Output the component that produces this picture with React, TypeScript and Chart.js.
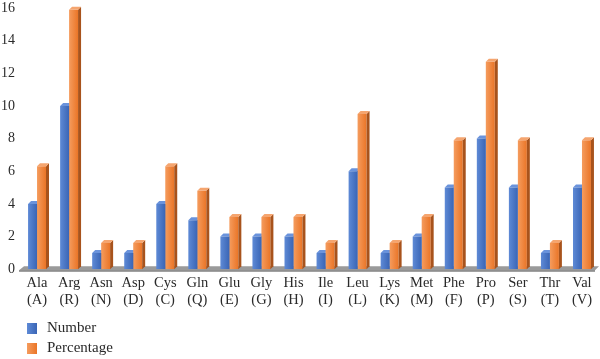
import React, { useEffect, useRef } from "react";
import { Chart, registerables } from "chart.js";

Chart.register(...registerables);

const categories: string[][] = [
  ["Ala", "(A)"], ["Arg", "(R)"], ["Asn", "(N)"], ["Asp", "(D)"], ["Cys", "(C)"],
  ["Gln", "(Q)"], ["Glu", "(E)"], ["Gly", "(G)"], ["His", "(H)"], ["Ile", "(I)"],
  ["Leu", "(L)"], ["Lys", "(K)"], ["Met", "(M)"], ["Phe", "(F)"], ["Pro", "(P)"],
  ["Ser", "(S)"], ["Thr", "(T)"], ["Val", "(V)"],
];
const numberValues: number[] = [4, 10, 1, 1, 4, 3, 2, 2, 2, 1, 6, 1, 2, 5, 8, 5, 1, 5];
const percentageValues: number[] = [6.3, 15.9, 1.6, 1.6, 6.3, 4.8, 3.2, 3.2, 3.2, 1.6, 9.5, 1.6, 3.2, 7.9, 12.7, 7.9, 1.6, 7.9];
const yTicks: number[] = [0, 2, 4, 6, 8, 10, 12, 14, 16];
const seriesNames: string[] = ["Number", "Percentage"];

const FONT = "'Liberation Serif', 'Times New Roman', serif";
const COLORS = [
  { front: "#4170c0", light: "#5e8ad6", dark: "#3a65b5", top: "#6a93dc", side: "#2c528f" },
  { front: "#ED7D31", light: "#f59c5e", dark: "#ea7527", top: "#f5a56f", side: "#a8531c" },
];
const DEPTH = 3;
const CAT_PCT = 0.56;

function frontColor(dsIndex: number) {
  return (context: any) => {
    const c = COLORS[dsIndex];
    try {
      const chart = context.chart;
      const xs = chart.scales && chart.scales.x;
      if (!xs || context.dataIndex === undefined) return c.front;
      const center = xs.getPixelForValue(context.dataIndex);
      const catW = (xs.right - xs.left) / categories.length;
      const barW = (catW * CAT_PCT) / 2;
      const l = center - barW + dsIndex * barW;
      const g = chart.ctx.createLinearGradient(l, 0, l + barW, 0);
      g.addColorStop(0, c.light);
      g.addColorStop(1, c.dark);
      return g;
    } catch (e) {
      return c.front;
    }
  };
}

function drawFaces(ctx: CanvasRenderingContext2D, chart: any, dsIndex: number) {
  const meta = chart.getDatasetMeta(dsIndex);
  const c = COLORS[dsIndex];
  meta.data.forEach((el: any) => {
    const { x, y, base, width } = el.getProps(["x", "y", "base", "width"], true);
    const l = x - width / 2;
    const r = x + width / 2;
    ctx.fillStyle = c.side;
    ctx.beginPath();
    ctx.moveTo(r, y);
    ctx.lineTo(r + DEPTH, y - DEPTH);
    ctx.lineTo(r + DEPTH, base - DEPTH);
    ctx.lineTo(r, base);
    ctx.closePath();
    ctx.fill();
    ctx.fillStyle = c.top;
    ctx.beginPath();
    ctx.moveTo(l, y);
    ctx.lineTo(l + DEPTH, y - DEPTH);
    ctx.lineTo(r + DEPTH, y - DEPTH);
    ctx.lineTo(r, y);
    ctx.closePath();
    ctx.fill();
  });
}

const threeD = {
  id: "threeD",
  beforeDatasetsDraw(chart: any) {
    const ctx = chart.ctx as CanvasRenderingContext2D;
    const { left, right, bottom } = chart.chartArea;
    ctx.save();
    ctx.fillStyle = "#9a9a9a";
    ctx.beginPath();
    ctx.moveTo(left - 2, bottom + 1);
    ctx.lineTo(left + 3, bottom - 3);
    ctx.lineTo(right + 1, bottom - 3);
    ctx.lineTo(right - 3, bottom + 1);
    ctx.closePath();
    ctx.fill();
    ctx.fillStyle = "#7a7a7a";
    ctx.fillRect(left - 2, bottom + 1, right - left - 1, 1.5);
    drawFaces(ctx, chart, 0);
    ctx.restore();
  },
  afterDatasetsDraw(chart: any) {
    const ctx = chart.ctx as CanvasRenderingContext2D;
    ctx.save();
    drawFaces(ctx, chart, 1);
    ctx.restore();
  },
  afterDraw(chart: any) {
    const ctx = chart.ctx as CanvasRenderingContext2D;
    ctx.save();
    const items = [
      { y: 323, label: seriesNames[0], c: COLORS[0] },
      { y: 343, label: seriesNames[1], c: COLORS[1] },
    ];
    items.forEach((it) => {
      const g = ctx.createLinearGradient(27, 0, 37, 0);
      g.addColorStop(0, it.c.light);
      g.addColorStop(1, it.c.dark);
      ctx.fillStyle = g;
      ctx.fillRect(27, it.y, 10, 11);
      ctx.fillStyle = "#2a2a2a";
      ctx.font = `15px ${FONT}`;
      ctx.textBaseline = "middle";
      ctx.textAlign = "left";
      ctx.fillText(it.label, 47, it.y + 5.5);
    });
    ctx.restore();
  },
};

export default function App() {
  const ref = useRef<HTMLCanvasElement | null>(null);
  useEffect(() => {
    document.body.style.margin = "0";
    if (!ref.current) return;
    const chart = new Chart(ref.current, {
      type: "bar",
      data: {
        labels: categories,
        datasets: [
          { label: seriesNames[0], data: numberValues, backgroundColor: frontColor(0), borderWidth: 0 },
          { label: seriesNames[1], data: percentageValues, backgroundColor: frontColor(1), borderWidth: 0 },
        ],
      },
      options: {
        responsive: false,
        animation: false,
        devicePixelRatio: 1,
        categoryPercentage: CAT_PCT,
        barPercentage: 1,
        layout: { padding: { top: 8, right: 2, bottom: 45, left: 0 } },
        plugins: { legend: { display: false }, tooltip: { enabled: false } },
        scales: {
          x: {
            grid: { display: false, drawTicks: false },
            border: { display: false },
            ticks: {
              padding: 5,
              color: "#2a2a2a",
              font: { family: FONT, size: 14.5 },
              maxRotation: 0,
              autoSkip: false,
            },
          },
          y: {
            min: 0,
            max: 16,
            grid: { display: false, drawTicks: false },
            border: { display: false },
            afterFit: (scale: any) => {
              scale.width = 21;
              scale.paddingTop = 0;
              scale.paddingBottom = 0;
            },
            afterBuildTicks: (scale: any) => {
              scale.ticks = yTicks.map((v) => ({ value: v }));
            },
            ticks: {
              padding: 6,
              color: "#2a2a2a",
              font: { family: FONT, size: 14 },
            },
          },
        },
      },
      plugins: [threeD],
    } as any);
    return () => chart.destroy();
  }, []);
  return (
    <div style={{ width: 600, height: 359 }}>
      <canvas ref={ref} width={600} height={359} />
    </div>
  );
}
